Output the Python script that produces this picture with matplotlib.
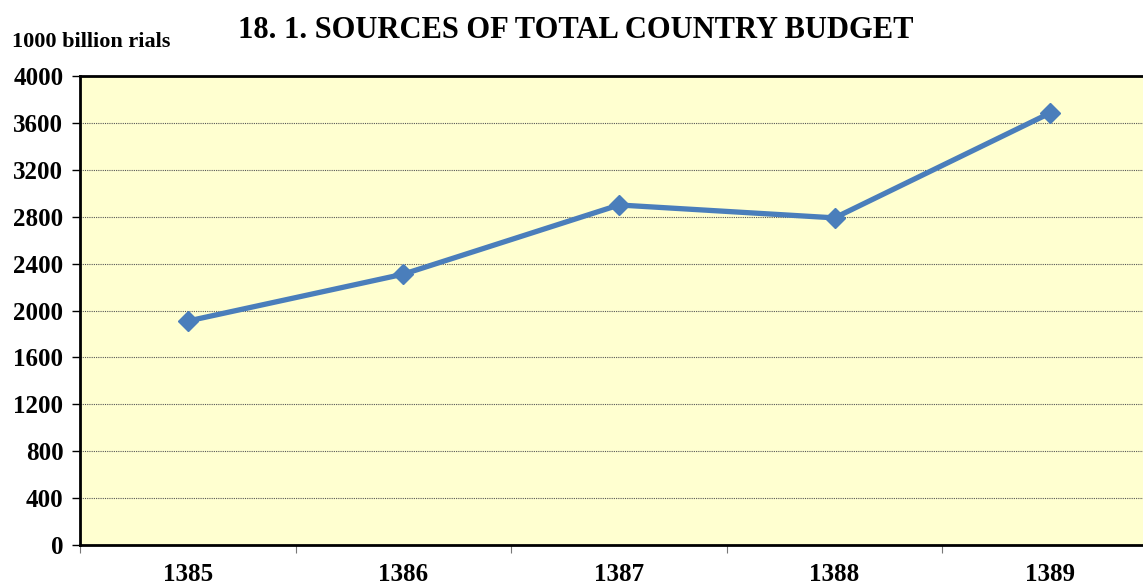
import matplotlib
matplotlib.use('Agg')
import matplotlib.pyplot as plt
import numpy as np

years = ['1385', '1386', '1387', '1388', '1389']
budget = [1910, 2310, 2900, 2790, 3685]

plt.rcParams['font.family'] = 'Liberation Serif'
plt.rcParams['font.weight'] = 'bold'

fig = plt.figure(figsize=(11.43, 5.86), dpi=100)
ax = fig.add_axes([80/1143, 41/586, 1078/1143, 469/586])
ax.set_facecolor('#FFFFD0')

x = np.arange(len(years))
ax.plot(x, budget, color='#4A7EBB', linewidth=3.8, marker='D', markersize=10,
        markerfacecolor='#4A7EBB', markeredgecolor='#4A7EBB', zorder=3)

ax.set_xlim(-0.5, len(years) - 0.5)
ax.set_ylim(0, 4000)
ax.set_yticks(np.arange(0, 4001, 400))
ax.set_yticklabels([str(v) for v in range(0, 4001, 400)], fontsize=18, fontweight='bold')

# category labels centred, tick marks at boundaries
ax.set_xticks(np.arange(-0.5, len(years)), minor=False)
ax.set_xticklabels([])
ax.set_xticks(x, minor=True)
ax.set_xticklabels(years, minor=True, fontsize=18, fontweight='bold')
ax.tick_params(axis='x', which='minor', length=0, pad=13)
ax.tick_params(axis='x', which='major', length=6, color='#777777', direction='out')
ax.tick_params(axis='y', length=6, width=1, direction='out', pad=6)

ax.grid(axis='y', linestyle=(0, (1, 1)), color='#555555', linewidth=0.8)
ax.set_axisbelow(True)

for s in ['left', 'bottom', 'top']:
    ax.spines[s].set_linewidth(2)
    ax.spines[s].set_color('black')
ax.spines['right'].set_visible(False)

fig.text(576/1143, 1 - 31/586, '18. 1. SOURCES OF TOTAL COUNTRY BUDGET', ha='center', va='center',
         fontsize=22, fontweight='bold')
fig.text(12/1143, 1 - 42/586, '1000 billion rials', ha='left', va='center',
         fontsize=16, fontweight='bold')

plt.savefig('out.png', dpi=100)
